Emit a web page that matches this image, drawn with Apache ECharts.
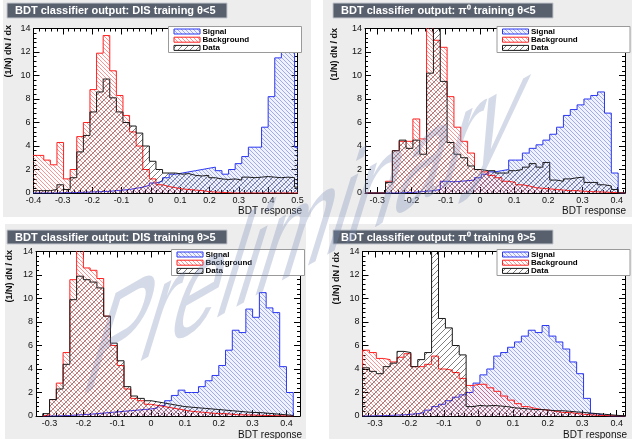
<!DOCTYPE html>
<html>
<head>
<meta charset="utf-8">
<script src="https://cdn.jsdelivr.net/npm/echarts@6/dist/echarts.min.js"></script>
<style>
html, body { margin: 0; padding: 0; background: #ffffff; }
#chart { width: 639px; height: 439px; }
</style>
</head>
<body>
<div id="chart"></div>
<script>
// ---- BDT classifier output histograms, normalised as (1/N) dN/dx ----

// DIS training, theta < 5
const disLowStart = -0.41;
const disLowBin = 0.0225;
const disLowSignal = [0, 0, 0, 0, 0.02, 0.03, 0.04, 0.06, 0.08, 0.1, 0.12, 0.15, 0.2, 0.25,
  0.3, 0.4, 0.5, 0.65, 0.85, 1.0, 1.3, 1.6, 1.7, 1.8, 1.9, 2.0, 2.1, 2.2, 1.9, 1.6,
  2.0, 2.5, 3.1, 3.9, 3.9, 5.6, 8.2, 11.5, 13.7, 14.5, 3.9];
const disLowBackground = [3.2, 3.2, 2.8, 2.4, 4.3, 1.2, 2.0, 4.8, 6.0, 8.8, 11.9, 13.4, 10.4, 8.3,
  6.6, 5.2, 4.0, 2.0, 1.2, 0.7, 0.55, 0.45, 0.35, 0.3, 0.25, 0.2, 0.12, 0.08, 0.05, 0.03,
  0, 0, 0, 0, 0, 0, 0, 0, 0, 0, 0];
const disLowData = [0.2, 0.2, 0.2, 0.3, 0.7, 0.3, 1.3, 3.5, 4.9, 6.9, 8.6, 9.7, 8.1, 6.9,
  6.0, 5.7, 5.1, 4.0, 2.7, 2.0, 1.7, 1.7, 1.6, 1.65, 1.5, 1.45, 1.5, 1.3, 1.2, 1.15,
  1.2, 1.1, 1.35, 1.3, 1.35, 1.4, 1.35, 1.3, 1.35, 1.3, 0.5];
const disLowTicks = [-0.4, -0.3, -0.2, -0.1, 0, 0.1, 0.2, 0.3, 0.4, 0.5];

// pi0 training, theta < 5
const pi0LowStart = -0.336;
const pi0LowBin = 0.02;
const pi0LowSignal = [0, 0, 0, 0, 0, 0.05, 0.05, 0.1, 0.15, 0.2, 0.3, 1.0, 0.95, 1.0, 1.05,
  1.1, 1.3, 1.6, 1.8, 1.9, 2.0, 2.8, 2.8, 3.4, 3.8, 4.1, 4.5, 5.0, 5.6, 6.6, 7.1, 7.5,
  8.0, 8.3, 8.6, 6.8, 1.7, 0];
const pi0LowBackground = [0, 0, 0, 1.0, 3.6, 4.4, 4.4, 6.3, 4.6, 14.5, 13.0, 12.4, 8.2, 5.6,
  4.4, 3.4, 2.0, 1.8, 1.5, 1.3, 1.0, 0.9, 0.7, 0.6, 0.45, 0.4, 0.35, 0.3, 0.25, 0.2, 0.2,
  0.15, 0.12, 0.1, 0.08, 0.05, 0.03, 0];
const pi0LowData = [0, 0, 0, 0.9, 3.6, 4.5, 3.8, 4.5, 3.3, 10.2, 14.5, 9.5, 4.3, 3.3, 3.0,
  2.3, 2.0, 1.9, 1.9, 1.7, 1.7, 1.9, 2.0, 2.2, 2.5, 2.2, 2.6, 1.1, 1.0, 1.2, 1.3, 1.35,
  0.9, 0.9, 0.7, 0.6, 0.3, 0];
const pi0LowTicks = [-0.3, -0.2, -0.1, 0, 0.1, 0.2, 0.3, 0.4];

// DIS training, theta > 5
const disHighStart = -0.32;
const disHighBin = 0.02;
const disHighSignal = [0, 0, 0.02, 0.05, 0.08, 0.12, 0.15, 0.2, 0.25, 0.3, 0.35, 0.4, 0.45,
  0.5, 0.55, 0.6, 0.7, 0.9, 1.3, 1.75, 2.2, 2.0, 2.0, 2.5, 3.0, 3.45, 4.3, 5.6, 7.3, 7.1,
  9.1, 8.4, 10.5, 9.2, 8.8, 4.2, 2.0];
const disHighBackground = [0.1, 1.4, 2.8, 5.4, 11.6, 14.2, 12.6, 12.4, 11.7, 8.5, 6.0, 4.3,
  2.3, 1.5, 1.3, 1.0, 0.9, 0.8, 0.7, 0.6, 0.5, 0.4, 0.35, 0.3, 0.25, 0.2, 0.2, 0.15, 0.1,
  0.1, 0.08, 0.06, 0.05, 0.03, 0.02, 0.01, 0];
const disHighData = [0.2, 1.4, 2.3, 4.4, 9.9, 11.9, 11.6, 11.4, 10.9, 8.5, 6.2, 4.7, 2.5,
  1.7, 1.5, 1.3, 1.2, 1.1, 1.0, 0.9, 0.8, 0.75, 0.7, 0.65, 0.6, 0.55, 0.5, 0.45, 0.4, 0.35,
  0.3, 0.3, 0.25, 0.2, 0.15, 0.1, 0.05];
const disHighTicks = [-0.3, -0.2, -0.1, 0, 0.1, 0.2, 0.3, 0.4];

// pi0 training, theta > 5
const pi0HighStart = -0.336;
const pi0HighBin = 0.02;
const pi0HighSignal = [0, 0.02, 0.03, 0.05, 0.08, 0.1, 0.15, 0.2, 0.3, 0.5, 0.8, 1.0, 1.3,
  1.6, 1.8, 2.0, 2.8, 3.5, 4.0, 5.1, 5.4, 5.85, 6.3, 6.8, 7.3, 7.1, 7.7, 6.8, 6.3, 5.7,
  4.6, 3.6, 1.5, 0.2, 0.05, 0, 0, 0];
const pi0HighBackground = [5.6, 5.4, 4.9, 4.8, 4.6, 5.0, 5.3, 4.2, 4.2, 4.4, 5.1, 4.0, 3.9,
  3.7, 3.2, 2.6, 2.7, 2.7, 2.4, 2.1, 1.7, 1.35, 1.05, 0.8, 0.65, 0.55, 0.5, 0.4, 0.3, 0.3,
  0.22, 0.15, 0.1, 0.06, 0.04, 0.02, 0.01, 0];
const pi0HighData = [4.1, 3.8, 3.6, 4.2, 4.5, 5.5, 5.4, 4.2, 4.8, 5.4, 14.5, 8.3, 7.5, 6.0,
  5.2, 0.8, 0.9, 0.85, 0.9, 0.85, 0.8, 0.7, 0.65, 0.6, 0.55, 0.55, 0.5, 0.45, 0.45, 0.4,
  0.35, 0.3, 0.25, 0.2, 0.15, 0.1, 0.05, 0.02];
const pi0HighTicks = [-0.3, -0.2, -0.1, 0, 0.1, 0.2, 0.3, 0.4];

const yMax = 14;
const legendNames = ['Signal', 'Background', 'Data'];
const titles = [
  'BDT classifier output: DIS training \u03b8<5',
  'BDT classifier output: \u03c0\u2070 training \u03b8<5',
  'BDT classifier output: DIS training \u03b8>5',
  'BDT classifier output: \u03c0\u2070 training \u03b8>5'
];

const FONT = '"Liberation Sans", Arial, Helvetica, sans-serif';

// hatched fill tiles
function hatch(color, dir, gap, bg) {
  const c = document.createElement('canvas');
  c.width = gap; c.height = gap;
  const g = c.getContext('2d');
  if (bg) { g.fillStyle = bg; g.fillRect(0, 0, gap, gap); }
  g.strokeStyle = color;
  g.lineWidth = 1;
  g.beginPath();
  for (const o of [-gap, 0, gap]) {
    if (dir === 'back') { g.moveTo(o, 0); g.lineTo(o + gap, gap); }
    else { g.moveTo(o, gap); g.lineTo(o + gap, 0); }
  }
  g.stroke();
  return { image: c, repeat: 'repeat' };
}

const styles = {
  Signal: { line: '#2a36f0', fill: hatch('rgba(60,80,230,0.45)', 'back', 4, 'rgba(150,170,235,0.14)') },
  Background: { line: '#ff2020', fill: hatch('rgba(255,40,40,0.5)', 'back', 4) },
  Data: { line: '#1a1a1a', fill: hatch('rgba(0,0,0,0.5)', 'fwd', 6) }
};

function stepPoints(start, width, values) {
  const pts = [[start, 0]];
  values.forEach((v, i) => {
    pts.push([start + i * width, v], [start + (i + 1) * width, v]);
  });
  pts.push([start + values.length * width, 0]);
  return pts;
}

function minorTicks(lo, hi, step) {
  const out = [];
  const k0 = Math.ceil(lo / step - 1e-6), k1 = Math.floor(hi / step + 1e-6);
  for (let k = k0; k <= k1; k++) out.push(+(k * step).toFixed(4));
  return out;
}

const panels = [
  { grid: { left: 33.5, top: 28.5, width: 264, height: 164.5 }, xMin: -0.4, xMax: 0.5,
    ticks: disLowTicks, start: disLowStart, bin: disLowBin,
    hists: [disLowSignal, disLowBackground, disLowData],
    bar: [7, 3, 220, 15], box: [168.5, 26.5], yTitle: [8.5, 25], xTitle: [302, 211],
    bg: [3, 0, 308, 217] },
  { grid: { left: 365, top: 28.5, width: 260, height: 164.5 }, xMin: -0.336, xMax: 0.424,
    ticks: pi0LowTicks, start: pi0LowStart, bin: pi0LowBin,
    hists: [pi0LowSignal, pi0LowBackground, pi0LowData],
    bar: [333, 3, 220, 15], box: [497, 26.5], yTitle: [335, 28], xTitle: [626, 211.5],
    bg: [323, 0, 309, 217] },
  { grid: { left: 36, top: 251.5, width: 264, height: 164.5 }, xMin: -0.34, xMax: 0.44,
    ticks: disHighTicks, start: disHighStart, bin: disHighBin,
    hists: [disHighSignal, disHighBackground, disHighData],
    bar: [7, 230, 220, 14], box: [171.5, 249.5], yTitle: [10, 250], xTitle: [302, 435],
    bg: [5, 224, 301, 215] },
  { grid: { left: 362.5, top: 251.5, width: 262.5, height: 164.5 }, xMin: -0.336, xMax: 0.424,
    ticks: pi0HighTicks, start: pi0HighStart, bin: pi0HighBin,
    hists: [pi0HighSignal, pi0HighBackground, pi0HighData],
    bar: [333, 230, 220, 14], box: [497, 249.5], yTitle: [336.5, 252], xTitle: [627, 435],
    bg: [329, 224, 303, 215] }
];

const option = {
  animation: false,
  backgroundColor: '#ffffff',
  grid: [], xAxis: [], yAxis: [], series: [], graphic: []
};

const axisColor = '#000000';

panels.forEach((p, i) => {
  option.grid.push(Object.assign({ containLabel: false }, p.grid));
  const minor = minorTicks(p.xMin, p.xMax, 0.02);
  const base = { gridIndex: i, type: 'value', min: p.xMin, max: p.xMax, splitLine: { show: false } };
  // bottom axis with labels
  option.xAxis.push(Object.assign({}, base, {
    position: 'bottom',
    axisLine: { show: true, onZero: false, lineStyle: { color: axisColor, width: 1 } },
    axisTick: { show: true, inside: true, length: 6, customValues: p.ticks, lineStyle: { color: axisColor } },
    axisLabel: { show: true, customValues: p.ticks, fontSize: 9, margin: 3, color: '#111', fontFamily: FONT }
  }));
  option.xAxis.push(Object.assign({}, base, {
    position: 'bottom',
    axisLine: { show: false, onZero: false },
    axisTick: { show: true, inside: true, length: 3, customValues: minor, lineStyle: { color: axisColor } },
    axisLabel: { show: false }
  }));
  option.xAxis.push(Object.assign({}, base, {
    position: 'top',
    axisLine: { show: true, onZero: false, lineStyle: { color: axisColor, width: 1 } },
    axisTick: { show: true, inside: true, length: 6, customValues: p.ticks, lineStyle: { color: axisColor } },
    axisLabel: { show: false }
  }));
  option.xAxis.push(Object.assign({}, base, {
    position: 'top',
    axisLine: { show: false, onZero: false },
    axisTick: { show: true, inside: true, length: 3, customValues: minor, lineStyle: { color: axisColor } },
    axisLabel: { show: false }
  }));
  const ybase = { gridIndex: i, type: 'value', min: 0, max: yMax, interval: 2,
    splitLine: { show: false }, minorSplitLine: { show: false },
    axisLine: { show: true, onZero: false, lineStyle: { color: axisColor, width: 1 } },
    axisTick: { show: true, inside: true, length: 6, lineStyle: { color: axisColor } },
    minorTick: { show: true, splitNumber: 5, length: 3, lineStyle: { color: axisColor } } };
  option.yAxis.push(Object.assign({}, ybase, {
    position: 'left',
    axisLabel: { show: true, fontSize: 9, margin: 3, color: '#111', fontFamily: FONT }
  }));
  option.yAxis.push(Object.assign({}, ybase, { position: 'right', axisLabel: { show: false } }));

  p.hists.forEach((vals, j) => {
    const st = styles[legendNames[j]];
    option.series.push({
      type: 'line', name: legendNames[j], xAxisIndex: 4 * i, yAxisIndex: 2 * i,
      data: stepPoints(p.start, p.bin, vals), showSymbol: false, symbol: 'none',
      clip: true, silent: true, z: 2 + j,
      lineStyle: { color: st.line, width: 1 },
      areaStyle: { color: st.fill, opacity: 1 }
    });
  });

  // panel background, plot background
  option.graphic.push({ type: 'rect', z: -20, silent: true,
    shape: { x: p.bg[0], y: p.bg[1], width: p.bg[2], height: p.bg[3] },
    style: { fill: '#ededed' } });
  option.graphic.push({ type: 'rect', z: -10, silent: true,
    shape: { x: p.grid.left, y: p.grid.top, width: p.grid.width, height: p.grid.height },
    style: { fill: '#ffffff' } });
  // title bar
  option.graphic.push({ type: 'rect', z: 60, silent: true,
    shape: { x: p.bar[0], y: p.bar[1], width: p.bar[2], height: p.bar[3] },
    style: { fill: '#58606e', stroke: '#c4c8ce', lineWidth: 1 } });
  option.graphic.push({ type: 'text', z: 61, silent: true,
    x: p.bar[0] + 8, y: p.bar[1] + p.bar[3] / 2 + 0.5,
    style: { text: titles[i], fill: '#ffffff', font: 'bold 11px ' + FONT,
      align: 'left', verticalAlign: 'middle' } });
  // axis titles
  option.graphic.push({ type: 'text', z: 61, silent: true,
    x: p.yTitle[0], y: p.yTitle[1], rotation: Math.PI / 2,
    style: { text: '(1/N) dN / dx', fill: '#111', font: 'bold 9px ' + FONT,
      align: 'right', verticalAlign: 'middle' } });
  option.graphic.push({ type: 'text', z: 61, silent: true,
    x: p.xTitle[0], y: p.xTitle[1],
    style: { text: 'BDT response', fill: '#111', font: '10px ' + FONT,
      align: 'right', verticalAlign: 'middle' } });
  // legend box
  const bx = p.box[0], by = p.box[1];
  option.graphic.push({ type: 'rect', z: 70, silent: true,
    shape: { x: bx, y: by, width: 133, height: 26 },
    style: { fill: '#ffffff', stroke: '#9a9a9a', lineWidth: 1 } });
  legendNames.forEach((nm, j) => {
    const st = styles[nm];
    option.graphic.push({ type: 'rect', z: 71, silent: true,
      shape: { x: bx + 5.5, y: by + 2.5 + j * 8.2, width: 26, height: 5 },
      style: { fill: st.fill, stroke: st.line, lineWidth: 1 } });
    option.graphic.push({ type: 'text', z: 72, silent: true,
      x: bx + 34, y: by + 5.2 + j * 8.2,
      style: { text: nm, fill: '#000', font: 'bold 8px ' + FONT,
        align: 'left', verticalAlign: 'middle' } });
  });
});

// slanted watermark across the canvas: rising baseline, tall letters
option.graphic.push({ type: 'text', z: 200, silent: true,
  x: 305, y: 234, scaleY: 1.7, skewY: 0.52, skewX: -0.3,
  style: { text: 'Preliminary', fill: 'rgba(120,140,180,0.32)', font: '86px ' + FONT,
    align: 'center', verticalAlign: 'middle' } });

const chart = echarts.init(document.getElementById('chart'), null, { renderer: 'canvas' });
chart.setOption(option);
</script>
</body>
</html>
